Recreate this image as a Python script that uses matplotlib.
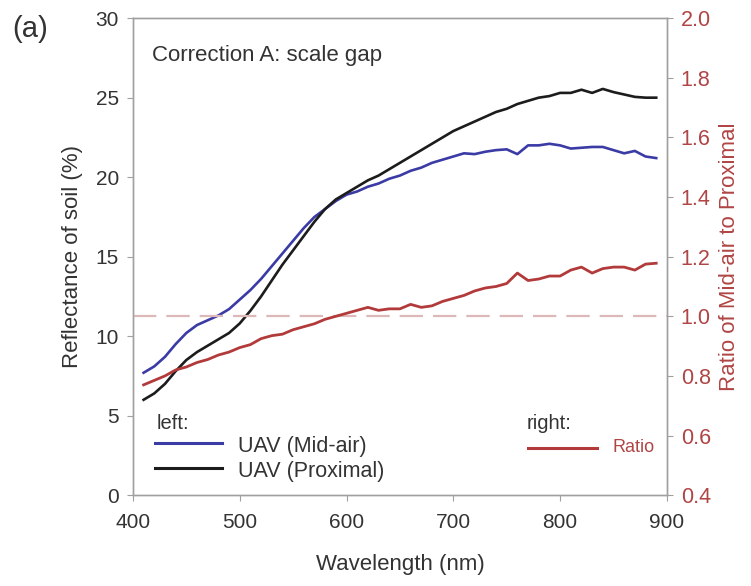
import matplotlib
matplotlib.use("Agg")
import matplotlib.pyplot as plt
from matplotlib.lines import Line2D

plt.rcParams['font.family'] = ['Liberation Sans', 'DejaVu Sans']

# Wavelength grid (nm)
wavelength = [410, 420, 430, 440, 450, 460, 470, 480, 490, 500,
              510, 520, 530, 540, 550, 560, 570, 580, 590, 600,
              610, 620, 630, 640, 650, 660, 670, 680, 690, 700,
              710, 720, 730, 740, 750, 760, 770, 780, 790, 800,
              810, 820, 830, 840, 850, 860, 870, 880, 890]

# Soil reflectance (%) from UAV flown at mid-air height
refl_midair = [7.7, 8.1, 8.7, 9.5, 10.2, 10.7, 11.0, 11.3, 11.7, 12.3,
               12.9, 13.6, 14.4, 15.2, 16.0, 16.8, 17.5, 18.0, 18.5, 18.9,
               19.1, 19.4, 19.6, 19.9, 20.1, 20.4, 20.6, 20.9, 21.1, 21.3,
               21.5, 21.45, 21.6, 21.7, 21.75, 21.45, 22.0, 22.0, 22.1, 22.0,
               21.8, 21.85, 21.9, 21.9, 21.7, 21.5, 21.65, 21.3, 21.2]

# Soil reflectance (%) from UAV at proximal height
refl_proximal = [6.0, 6.4, 7.0, 7.8, 8.5, 9.0, 9.4, 9.8, 10.2, 10.8,
                 11.6, 12.5, 13.5, 14.5, 15.4, 16.3, 17.2, 18.0, 18.6, 19.0,
                 19.4, 19.8, 20.1, 20.5, 20.9, 21.3, 21.7, 22.1, 22.5, 22.9,
                 23.2, 23.5, 23.8, 24.1, 24.3, 24.6, 24.8, 25.0, 25.1, 25.3,
                 25.3, 25.5, 25.3, 25.55, 25.35, 25.2, 25.05, 25.0, 25.0]

# Ratio of mid-air to proximal reflectance
ratio = [0.77, 0.785, 0.80, 0.82, 0.83, 0.845, 0.855, 0.87, 0.88, 0.895,
         0.905, 0.925, 0.935, 0.94, 0.955, 0.965, 0.975, 0.99, 1.0, 1.01,
         1.02, 1.03, 1.02, 1.025, 1.025, 1.04, 1.03, 1.035, 1.05, 1.06,
         1.07, 1.085, 1.095, 1.10, 1.11, 1.145, 1.12, 1.125, 1.135, 1.135,
         1.155, 1.165, 1.145, 1.16, 1.165, 1.165, 1.155, 1.175, 1.178]

reference_ratio = 1.0

x_ticks = [400, 500, 600, 700, 800, 900]
left_ticks = [0, 5, 10, 15, 20, 25, 30]
right_ticks = [0.4, 0.6, 0.8, 1.0, 1.2, 1.4, 1.6, 1.8, 2.0]

BLUE = '#3b3ba6'
BLACK = '#1c1c1c'
RED = '#b23a3a'
RED_TEXT = '#b04545'
SPINE = '#a0a0a0'
TEXT = '#333333'

fig = plt.figure(figsize=(7.51, 5.86), dpi=100)
ax = fig.add_axes([0.177, 0.155, 0.711, 0.814])
ax2 = ax.twinx()

ax.plot(wavelength, refl_midair, color=BLUE, lw=1.9, zorder=3)
ax.plot(wavelength, refl_proximal, color=BLACK, lw=1.9, zorder=3)
ax2.axhline(reference_ratio, color='#dcb8b8', lw=1.6, dashes=(10.5, 4.5),
            zorder=1)
ax2.plot(wavelength, ratio, color=RED, lw=2.0, zorder=3)

ax.set_xlim(400, 900)
ax.set_ylim(0, 30)
ax2.set_ylim(0.4, 2.0)
ax.set_xticks(x_ticks)
ax.set_yticks(left_ticks)
ax2.set_yticks(right_ticks)
ax2.set_yticklabels([f'{v:.1f}' for v in right_ticks])

for a in (ax, ax2):
    for s in a.spines.values():
        s.set_color(SPINE)
        s.set_linewidth(1.0)

ax.tick_params(axis='y', direction='out', length=4, width=0.8,
               color=SPINE, labelcolor=TEXT, labelsize=15, pad=6)
ax.tick_params(axis='x', direction='out', length=4, width=0.8,
               color=SPINE, labelcolor=TEXT, labelsize=15, pad=9)
ax2.tick_params(axis='y', direction='out', length=4, width=0.8,
                color=SPINE, labelcolor=RED_TEXT, labelsize=15.5, pad=6)

ax.set_xlabel('Wavelength (nm)', fontsize=16, color=TEXT, labelpad=16)
ax.set_ylabel('Reflectance of soil (%)', fontsize=16, color=TEXT, labelpad=9)
ax2.set_ylabel('Ratio of Mid-air to Proximal', fontsize=16, color=RED_TEXT,
               labelpad=6)

ax.text(0.036, 0.922, 'Correction A: scale gap', transform=ax.transAxes,
        fontsize=16, color=TEXT, va='center', ha='left')
fig.text(0.016, 0.95, '(a)', fontsize=21, color=TEXT, va='center', ha='left')

# Legend block for left axis
ax.text(0.045, 0.151, 'left:', transform=ax.transAxes, fontsize=14.5,
        color=TEXT, va='center', ha='left')
ax.add_line(Line2D([0.041, 0.167], [0.109, 0.109], transform=ax.transAxes,
                   color=BLUE, lw=2.2))
ax.text(0.197, 0.103, 'UAV (Mid-air)', transform=ax.transAxes, fontsize=15.5,
        color=TEXT, va='center', ha='left')
ax.add_line(Line2D([0.041, 0.167], [0.057, 0.057], transform=ax.transAxes,
                   color=BLACK, lw=2.2))
ax.text(0.197, 0.050, 'UAV (Proximal)', transform=ax.transAxes, fontsize=15.5,
        color=TEXT, va='center', ha='left')

# Legend block for right axis
ax.text(0.738, 0.151, 'right:', transform=ax.transAxes, fontsize=14.5,
        color=TEXT, va='center', ha='left')
ax.add_line(Line2D([0.740, 0.869], [0.099, 0.099], transform=ax.transAxes,
                   color=RED, lw=2.2))
ax.text(0.899, 0.099, 'Ratio', transform=ax.transAxes, fontsize=13,
        color=RED_TEXT, va='center', ha='left')

fig.savefig('out.png', dpi=100)
